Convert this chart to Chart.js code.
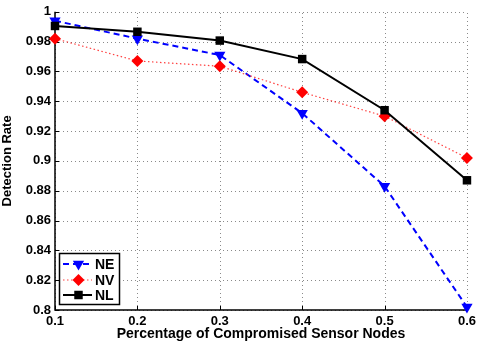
<!DOCTYPE html>
<html>
<head>
<meta charset="utf-8">
<script src="https://cdn.jsdelivr.net/npm/chart.js@4/dist/chart.umd.min.js"></script>
<style>
  html, body { margin: 0; padding: 0; background: #fff; }
  #wrap { width: 480px; height: 343px; position: relative; }
</style>
</head>
<body>
<div id="wrap"><canvas id="c" width="480" height="343"></canvas></div>
<script>
const xValues = [0.1, 0.2, 0.3, 0.4, 0.5, 0.6];
const neValues = [0.994, 0.982, 0.971, 0.932, 0.883, 0.802];
const nvValues = [0.982, 0.967, 0.9635, 0.946, 0.930, 0.902];
const nlValues = [0.9905, 0.9866, 0.9807, 0.9683, 0.934, 0.887];
const seriesLabels = ['NE', 'NV', 'NL'];
const xTitle = 'Percentage of Compromised Sensor Nodes';
const yTitle = 'Detection Rate';

const toPts = (vals) => vals.map((v, i) => ({ x: xValues[i], y: v }));
const FONT = "'Liberation Sans', Arial, sans-serif";

const dottedGrid = {
  id: 'dottedGrid',
  beforeDatasetsDraw(chart) {
    const { ctx, chartArea, scales } = chart;
    ctx.save();
    ctx.strokeStyle = '#8a8a8a';
    ctx.lineWidth = 1;
    ctx.setLineDash([1, 3]);
    ctx.beginPath();
    scales.y.ticks.forEach(t => {
      const y = Math.round(scales.y.getPixelForValue(t.value)) + 0.5;
      ctx.moveTo(chartArea.left, y);
      ctx.lineTo(chartArea.right, y);
    });
    scales.x.ticks.forEach(t => {
      const x = Math.round(scales.x.getPixelForValue(t.value)) + 0.5;
      ctx.moveTo(x, chartArea.bottom);
      ctx.lineTo(x, chartArea.top);
    });
    ctx.stroke();
    ctx.setLineDash([]);
    ctx.strokeStyle = '#000';
    ctx.lineWidth = 1.5;
    ctx.beginPath();
    ctx.moveTo(chartArea.left, chartArea.top);
    ctx.lineTo(chartArea.left, chartArea.bottom);
    ctx.lineTo(chartArea.right, chartArea.bottom);
    ctx.stroke();
    ctx.lineWidth = 1;
    ctx.beginPath();
    scales.y.ticks.forEach(t => {
      const y = Math.round(scales.y.getPixelForValue(t.value)) + 0.5;
      ctx.moveTo(chartArea.left, y);
      ctx.lineTo(chartArea.left + 4, y);
    });
    scales.x.ticks.forEach(t => {
      const x = Math.round(scales.x.getPixelForValue(t.value)) + 0.5;
      ctx.moveTo(x, chartArea.bottom);
      ctx.lineTo(x, chartArea.bottom - 4);
    });
    ctx.stroke();
    ctx.restore();
  }
};

const boxLegend = {
  id: 'boxLegend',
  afterDraw(chart) {
    const { ctx, chartArea } = chart;
    const x0 = chartArea.left + 4, y0 = chartArea.bottom - 57;
    const w = 60, h = 51;
    ctx.save();
    ctx.fillStyle = '#fff';
    ctx.fillRect(x0, y0, w, h);
    ctx.strokeStyle = '#000';
    ctx.lineWidth = 1.5;
    ctx.setLineDash([]);
    ctx.strokeRect(x0 + 0.5, y0 + 0.5, w, h);
    const rows = [11, 27, 42];
    chart.data.datasets.forEach((ds, i) => {
      const yy = y0 + rows[i];
      ctx.save();
      ctx.strokeStyle = ds.borderColor;
      ctx.lineWidth = ds.borderWidth;
      ctx.setLineDash(ds.borderDash || []);
      ctx.beginPath();
      ctx.moveTo(x0 + 4, yy);
      ctx.lineTo(x0 + 33, yy);
      ctx.stroke();
      ctx.setLineDash([]);
      ctx.fillStyle = ds.pointBackgroundColor;
      ctx.strokeStyle = ds.pointBorderColor;
      Chart.helpers.drawPoint(ctx, {
        pointStyle: ds.pointStyle,
        rotation: ds.pointRotation || 0,
        radius: ds.pointRadius,
        borderWidth: 0
      }, x0 + 19.5, yy);
      ctx.restore();
      ctx.fillStyle = '#000';
      ctx.font = 'bold 14px ' + FONT;
      ctx.textBaseline = 'middle';
      ctx.textAlign = 'left';
      ctx.fillText(ds.label, x0 + 36, yy + 1);
    });
    ctx.restore();
  }
};

new Chart(document.getElementById('c'), {
  type: 'line',
  data: {
    datasets: [
      {
        label: seriesLabels[0], data: toPts(neValues), order: 2,
        borderColor: '#0000ff', borderWidth: 2, borderDash: [6, 4],
        pointStyle: 'triangle', pointRotation: 180, pointRadius: 6.5,
        pointBackgroundColor: '#0000ff', pointBorderColor: '#0000ff', pointBorderWidth: 0,
        fill: false, tension: 0, clip: false
      },
      {
        label: seriesLabels[1], data: toPts(nvValues), order: 1,
        borderColor: 'rgba(255,0,0,0.75)', borderWidth: 1.2, borderDash: [1.5, 2.5],
        pointStyle: 'rectRot', pointRadius: 6,
        pointBackgroundColor: '#ff0000', pointBorderColor: '#ff0000', pointBorderWidth: 0,
        fill: false, tension: 0, clip: false
      },
      {
        label: seriesLabels[2], data: toPts(nlValues), order: 0,
        borderColor: '#000000', borderWidth: 2,
        pointStyle: 'rect', pointRadius: 6,
        pointBackgroundColor: '#000000', pointBorderColor: '#000000', pointBorderWidth: 0,
        fill: false, tension: 0, clip: false
      }
    ]
  },
  options: {
    responsive: false,
    animation: false,
    devicePixelRatio: 1,
    layout: { padding: { top: 7, right: 11, left: 0, bottom: 0 } },
    plugins: { legend: { display: false }, tooltip: { enabled: false } },
    scales: {
      x: {
        type: 'linear', min: 0.1, max: 0.6,
        afterBuildTicks: (s) => { s.ticks = xValues.map(v => ({ value: v })); },
        afterFit: (s) => { s.height = 33; },
        ticks: {
          padding: 4, color: '#000', font: { family: FONT, size: 13, weight: 'bold' },
          callback: (v) => String(Math.round(v * 10) / 10)
        },
        grid: { display: false, drawTicks: false },
        border: { display: false },
        title: {
          display: true, text: xTitle, color: '#000',
          font: { family: FONT, size: 14, weight: 'bold' }, padding: { top: 2, bottom: 0 }
        }
      },
      y: {
        type: 'linear', min: 0.8, max: 1.0,
        ticks: {
          stepSize: 0.02, padding: 4, color: '#000',
          font: { family: FONT, size: 13, weight: 'bold' },
          callback: (v) => String(Math.round(v * 100) / 100)
        },
        afterFit: (s) => { s.width = 55; },
        grid: { display: false, drawTicks: false },
        border: { display: false },
        title: {
          display: true, text: yTitle, color: '#000',
          font: { family: FONT, size: 13, weight: 'bold' }, padding: { top: 0, bottom: 1 }
        }
      }
    }
  },
  plugins: [dottedGrid, boxLegend]
});
</script>
</body>
</html>
